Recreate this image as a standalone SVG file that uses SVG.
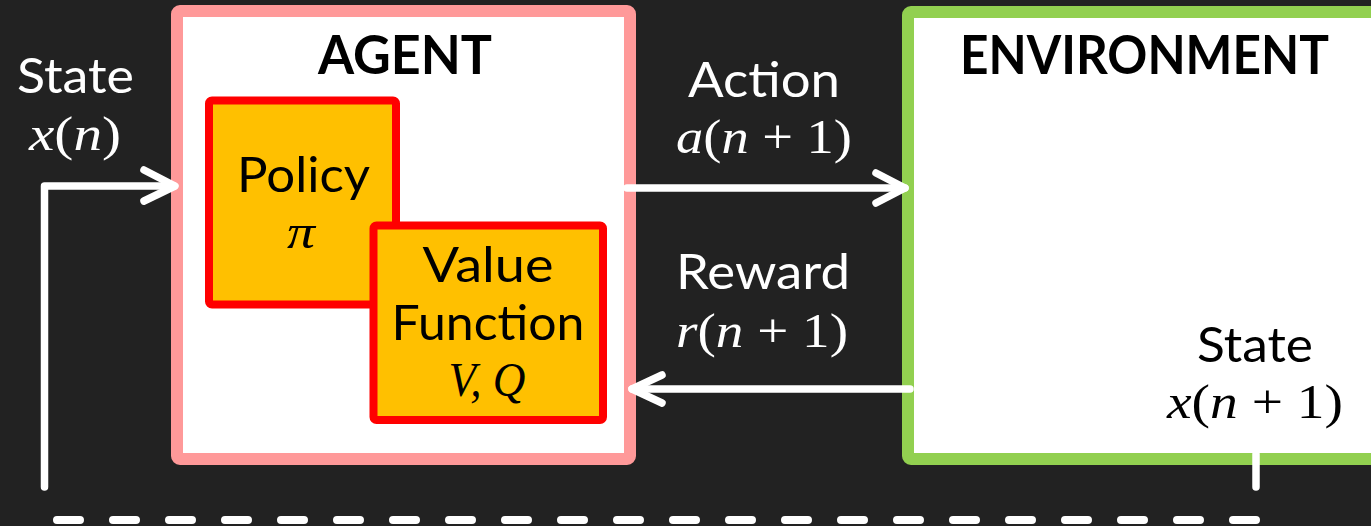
<svg xmlns="http://www.w3.org/2000/svg" width="1371" height="526" viewBox="0 0 1371 526">
  <style>
    .title { font-family: Lato, "Liberation Sans", sans-serif; font-weight: 700; font-size: 53px; fill: #000; }
    .lbl { font-family: Lato, "Liberation Sans", sans-serif; font-size: 48px; }
    .math { font-family: "Liberation Serif", "DejaVu Serif", serif; font-size: 49px; }
    .it { font-style: italic; }
    .white { fill: #fff; }
    .black { fill: #000; }
    .box-agent { fill: #fff; stroke: #FF9999; stroke-width: 12; }
    .box-env { fill: #fff; stroke: #92D050; stroke-width: 12; }
    .box-inner { fill: #FFC000; stroke: #FF0000; stroke-width: 8; }
    .wire { fill: none; stroke: #fff; stroke-width: 7.5; stroke-linecap: round; stroke-linejoin: round; }
    .dash { fill: none; stroke: #fff; stroke-width: 8; stroke-linecap: round; stroke-dasharray: 23 33; }
  </style>

  <rect width="1371" height="526" fill="#222222"/>

  <!-- Agent -->
  <g id="agent">
    <rect class="box-agent" x="177" y="11" width="453" height="448" rx="3"/>
    <text class="title" x="405" y="74" text-anchor="middle" textLength="174" lengthAdjust="spacingAndGlyphs">AGENT</text>
  </g>

  <g id="policy">
    <rect class="box-inner" x="209" y="100.5" width="187" height="204" rx="3"/>
    <text class="lbl black" x="303.5" y="192" text-anchor="middle" textLength="133" lengthAdjust="spacingAndGlyphs">Policy</text>
    <text class="math it black" x="301" y="248" text-anchor="middle" textLength="28" lengthAdjust="spacingAndGlyphs">π</text>
  </g>

  <g id="value-function">
    <rect class="box-inner" x="373.5" y="225.5" width="229.5" height="194.5" rx="3"/>
    <text class="lbl black" x="488" y="282" text-anchor="middle" textLength="131" lengthAdjust="spacingAndGlyphs">Value</text>
    <text class="lbl black" x="488" y="340" text-anchor="middle" textLength="193" lengthAdjust="spacingAndGlyphs">Function</text>
    <text class="math it black" x="487" y="396" text-anchor="middle" textLength="77" lengthAdjust="spacingAndGlyphs">V, Q</text>
  </g>

  <!-- Environment -->
  <g id="environment">
    <rect class="box-env" x="908" y="12" width="500" height="447" rx="3"/>
    <text class="title" x="960" y="74" textLength="369" lengthAdjust="spacingAndGlyphs">ENVIRONMENT</text>
    <text class="lbl black" x="1255" y="362" text-anchor="middle" textLength="116" lengthAdjust="spacingAndGlyphs">State</text>
    <text class="math black" x="1255" y="418" text-anchor="middle" textLength="176" lengthAdjust="spacingAndGlyphs"><tspan class="it">x</tspan>(<tspan class="it">n</tspan> + 1)</text>
  </g>

  <!-- Connectors -->
  <g id="connectors">
    <!-- state feedback into agent -->
    <path class="wire" d="M44.5 487 V186 H174"/>
    <path class="wire" d="M144 170 L175 186 L144 201"/>
    <!-- action -->
    <path class="wire" d="M627 188 H905"/>
    <path class="wire" d="M876 173 L905 188 L876 203"/>
    <!-- reward -->
    <path class="wire" d="M910 389 H632"/>
    <path class="wire" d="M662 375 L632 389 L662 403"/>
    <!-- environment state out -->
    <path class="wire" d="M1256 454 V487"/>
    <!-- return path -->
    <path class="dash" d="M57 520 H1256"/>
  </g>

  <!-- Connector labels -->
  <g id="labels">
    <text class="lbl white" x="75.5" y="93" text-anchor="middle" textLength="117" lengthAdjust="spacingAndGlyphs">State</text>
    <text class="math white" x="75" y="150" text-anchor="middle" textLength="92" lengthAdjust="spacingAndGlyphs"><tspan class="it">x</tspan>(<tspan class="it">n</tspan>)</text>
    <text class="lbl white" x="764" y="97" text-anchor="middle" textLength="152" lengthAdjust="spacingAndGlyphs">Action</text>
    <text class="math white" x="764" y="153" text-anchor="middle" textLength="176" lengthAdjust="spacingAndGlyphs"><tspan class="it">a</tspan>(<tspan class="it">n</tspan> + 1)</text>
    <text class="lbl white" x="763" y="289" text-anchor="middle" textLength="174" lengthAdjust="spacingAndGlyphs">Reward</text>
    <text class="math white" x="762" y="347" text-anchor="middle" textLength="172" lengthAdjust="spacingAndGlyphs"><tspan class="it">r</tspan>(<tspan class="it">n</tspan> + 1)</text>
  </g>
</svg>
